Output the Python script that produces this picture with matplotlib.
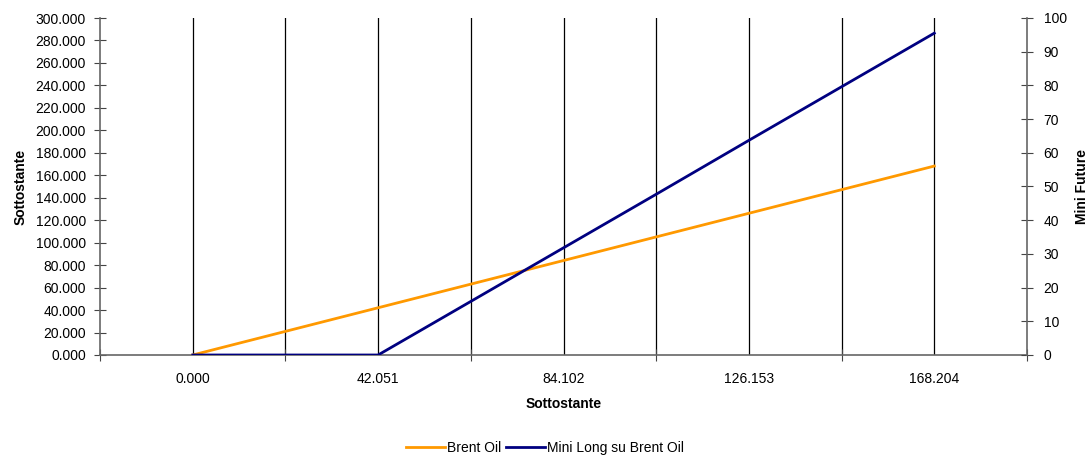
import matplotlib
matplotlib.use("Agg")
import matplotlib.pyplot as plt

plt.rcParams['font.family'] = ['Liberation Sans', 'DejaVu Sans']

# dati
sottostante = [0.000, 21.026, 42.051, 63.077, 84.102, 105.128, 126.153, 147.179, 168.204]
brent_oil = [0.0, 21.026, 42.051, 63.077, 84.102, 105.128, 126.153, 147.179, 168.204]
mini_long = [0.0, 0.0, 0.0, 15.9, 31.8, 47.7, 63.7, 79.6, 95.5]
x_labels = ["0.000", "42.051", "84.102", "126.153", "168.204"]
y_left = list(range(0, 301, 20))
y_right = list(range(0, 101, 10))

fig = plt.figure(figsize=(10.9, 4.59), dpi=100)
ax = fig.add_axes([100/1090, 1 - 355/459, 927/1090, 337/459])
ax2 = ax.twinx()

idx = list(range(len(sottostante)))
l1, = ax.plot(idx, brent_oil, color='#FF9900', lw=2, label='Brent Oil', zorder=3)
l2, = ax2.plot(idx, mini_long, color='#000080', lw=2, label='Mini Long su Brent Oil', zorder=3)

ax.set_xlim(-1, 9)
ax.set_ylim(0, 300)
ax2.set_ylim(0, 100)

# griglia verticale
for i in idx:
    ax.axvline(i, color='black', lw=0.9, zorder=1)

ax.set_xticks([-1, 1, 3, 5, 7, 9])
ax.set_xticklabels([])
ax.set_xticks([0, 2, 4, 6, 8], minor=True)
ax.set_xticklabels(x_labels, minor=True)
ax.tick_params(axis='x', which='major', direction='inout', length=8, color='#444444')
ax.tick_params(axis='x', which='minor', length=0, pad=12, labelsize=10)

ax.set_yticks(y_left)
ax.set_yticklabels(["%d.000" % v for v in y_left])
ax.tick_params(axis='y', direction='inout', length=8, labelsize=10, color='#444444', pad=6)
ax2.set_yticks(y_right)
ax2.tick_params(axis='y', direction='inout', length=8, labelsize=10, color='#444444', pad=8)

for a in (ax, ax2):
    a.spines['top'].set_visible(False)
    for s in ('left', 'right', 'bottom'):
        a.spines[s].set_color('#666666')
        a.spines[s].set_linewidth(1.2)
ax.spines['right'].set_visible(False)
ax2.spines['left'].set_visible(False)
ax2.spines['bottom'].set_visible(False)

ax.set_xlabel('Sottostante', fontweight='bold', fontsize=10, labelpad=8)
ax.set_ylabel('Sottostante', fontweight='bold', fontsize=10, labelpad=6)
ax2.set_ylabel('Mini Future', fontweight='bold', fontsize=10, labelpad=6)

fig.legend([l1, l2], ['Brent Oil', 'Mini Long su Brent Oil'], loc='center',
           bbox_to_anchor=(0.5, 1 - 448/459), ncol=2, frameon=False, fontsize=10,
           handlelength=2.8, columnspacing=0.3, handletextpad=0.2)

fig.savefig('out.png', dpi=100)
